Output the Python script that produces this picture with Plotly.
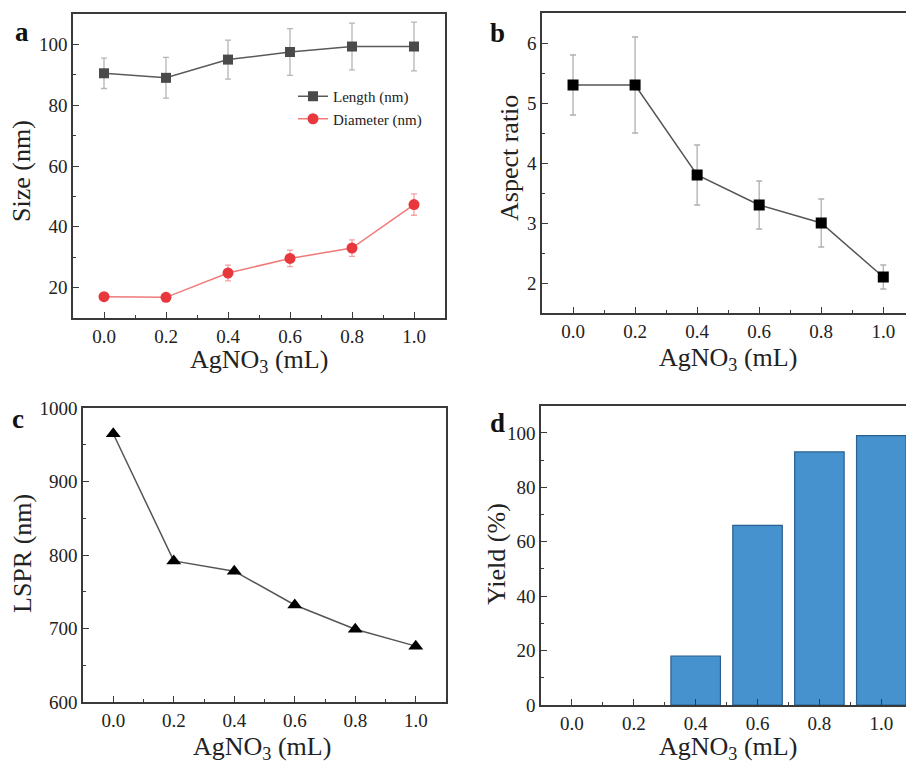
import plotly.graph_objects as go

W, H = 906, 763

agno3 = [0.0, 0.2, 0.4, 0.6, 0.8, 1.0]
length_nm = [90.5, 89.0, 95.0, 97.5, 99.3, 99.3]
length_err = [5.0, 6.7, 6.4, 7.7, 7.7, 8.0]
diameter_nm = [17.0, 16.8, 24.8, 29.6, 33.0, 47.3]
diameter_err = [0.8, 0.8, 2.6, 2.7, 2.7, 3.5]
aspect_ratio = [5.3, 5.3, 3.8, 3.3, 3.0, 2.1]
aspect_err = [0.5, 0.8, 0.5, 0.4, 0.4, 0.2]
lspr_nm = [965, 792, 778, 732, 699, 676]
yield_pct = [0, 0, 18, 66, 93, 99]
x_ticks = [0.0, 0.2, 0.4, 0.6, 0.8, 1.0]
x_ticklabels = ["0.0", "0.2", "0.4", "0.6", "0.8", "1.0"]

FONT = "Liberation Serif, Times New Roman, serif"
AX = "#3a3a3a"
TICK_SIZE = 19
TITLE_SIZE = 26


def px(x):
    return x / W


def py(y):
    return 1 - y / H


fig = go.Figure()

# Panel a
fig.add_trace(go.Scatter(
    x=agno3, y=length_nm, mode="lines+markers", name="Length (nm)",
    line=dict(color="#5a5a5a", width=1.5),
    marker=dict(symbol="square", size=10, color="#4a4a4a"),
    error_y=dict(type="data", array=length_err, color="#b5b5b5", thickness=1.3, width=3),
    xaxis="x", yaxis="y"))
fig.add_trace(go.Scatter(
    x=agno3, y=diameter_nm, mode="lines+markers", name="Diameter (nm)",
    line=dict(color="#f07a7a", width=1.5),
    marker=dict(symbol="circle", size=11, color="#e8383d"),
    error_y=dict(type="data", array=diameter_err, color="#f4a3a3", thickness=1.3, width=3),
    xaxis="x", yaxis="y"))

# Panel b
fig.add_trace(go.Scatter(
    x=agno3, y=aspect_ratio, mode="lines+markers", name="Aspect ratio",
    showlegend=False,
    line=dict(color="#555555", width=1.5),
    marker=dict(symbol="square", size=11, color="#000000"),
    error_y=dict(type="data", array=aspect_err, color="#b0b0b0", thickness=1.3, width=3),
    xaxis="x2", yaxis="y2"))

# Panel c
fig.add_trace(go.Scatter(
    x=agno3, y=lspr_nm, mode="lines+markers", name="LSPR",
    showlegend=False,
    line=dict(color="#555555", width=1.5),
    marker=dict(symbol="triangle-up", size=13, color="#000000"),
    xaxis="x3", yaxis="y3"))

# Panel d
fig.add_trace(go.Bar(
    x=agno3, y=yield_pct, name="Yield", showlegend=False, width=0.16,
    marker=dict(color="#4592cf",
                line=dict(color="#2a5f8f", width=[1.2 if v > 0 else 0 for v in yield_pct])),
    xaxis="x4", yaxis="y4"))

xcommon = dict(
    tickmode="array", tickvals=x_ticks, ticktext=x_ticklabels,
    ticks="inside", ticklen=6, tickwidth=1.3, tickcolor=AX,
    minor=dict(ticks="inside", ticklen=3, dtick=0.1, tick0=0, tickcolor=AX),
    showline=True, linecolor=AX, linewidth=1.5, mirror=True,
    showgrid=False, zeroline=False, automargin=False,
    tickfont=dict(family=FONT, size=TICK_SIZE, color="#222"),
)
ycommon = dict(
    ticks="inside", ticklen=6, tickwidth=1.3, tickcolor=AX,
    showline=True, linecolor=AX, linewidth=1.5, mirror=True,
    showgrid=False, zeroline=False, automargin=False,
    tickfont=dict(family=FONT, size=TICK_SIZE, color="#222"),
)

layout = dict(
    width=W, height=H,
    margin=dict(l=0, r=0, t=0, b=0, autoexpand=False),
    paper_bgcolor="white", plot_bgcolor="white",
    font=dict(family=FONT, color="#222"),
    showlegend=True,
    legend=dict(x=px(293), y=py(80), xanchor="left", yanchor="top",
                bgcolor="rgba(0,0,0,0)", font=dict(family=FONT, size=15, color="#222"),
                itemwidth=30, tracegroupgap=0),
    xaxis=dict(xcommon, domain=[px(73), px(445)], range=[-0.1, 1.1], anchor="y"),
    yaxis=dict(ycommon, domain=[py(318), py(14)], range=[10, 110], anchor="x",
               tickvals=[20, 40, 60, 80, 100],
               minor=dict(ticks="inside", ticklen=3, tickvals=[30, 50, 70, 90], tickcolor=AX)),
    xaxis2=dict(xcommon, domain=[px(542), 1.0], range=[-0.1, (906 - 573.3) / 310], anchor="y2"),
    yaxis2=dict(ycommon, domain=[py(313), py(13)], range=[1.5, 6.5], anchor="x2", mirror=False,
                tickvals=[2, 3, 4, 5, 6],
                minor=dict(ticks="inside", ticklen=3, tickvals=[2.5, 3.5, 4.5, 5.5], tickcolor=AX)),
    xaxis3=dict(xcommon, domain=[px(83), px(446)], range=[-0.1, 1.1], anchor="y3"),
    yaxis3=dict(ycommon, domain=[py(702), py(408)], range=[600, 1000], anchor="x3",
                tickvals=[600, 700, 800, 900, 1000],
                minor=dict(ticks="inside", ticklen=3, tickvals=[650, 750, 850, 950], tickcolor=AX)),
    xaxis4=dict(xcommon, domain=[px(541), 1.0], range=[-0.1, (906 - 572.3) / 309], anchor="y4"),
    yaxis4=dict(ycommon, domain=[py(705), py(405.7)], range=[0, 110], anchor="x4", mirror=False,
                tickvals=[0, 20, 40, 60, 80, 100],
                minor=dict(ticks="inside", ticklen=3, tickvals=[10, 30, 50, 70, 90], tickcolor=AX)),
)
fig.update_layout(**layout)

ann = []
xt = "AgNO<sub>3</sub> (mL)"
# x titles
for cx, cy in [(259, 361), (728, 359), (262, 748), (728, 748)]:
    ann.append(dict(text=xt, x=px(cx), y=py(cy), xref="paper", yref="paper",
                    showarrow=False, font=dict(family=FONT, size=TITLE_SIZE, color="#222"),
                    xanchor="center", yanchor="middle"))
# y titles
for txt, cx, cy in [("Size (nm)", 22, 171), ("Aspect ratio", 509, 158),
                    ("LSPR (nm)", 22, 554), ("Yield (%)", 496, 554)]:
    ann.append(dict(text=txt, x=px(cx), y=py(cy), xref="paper", yref="paper",
                    showarrow=False, textangle=-90,
                    font=dict(family=FONT, size=TITLE_SIZE, color="#222"),
                    xanchor="center", yanchor="middle"))
# panel letters
for txt, cx, cy in [("a", 22, 32), ("b", 497, 33), ("c", 18, 419), ("d", 497, 423)]:
    ann.append(dict(text="<b>%s</b>" % txt, x=px(cx), y=py(cy), xref="paper", yref="paper",
                    showarrow=False, font=dict(family=FONT, size=27, color="#111"),
                    xanchor="center", yanchor="middle"))
fig.update_layout(annotations=ann)

fig.write_html(
    "out.html",
    config={"displayModeBar": False},
    post_script="document.body.style.margin='0';document.body.style.overflow='hidden';",
)
